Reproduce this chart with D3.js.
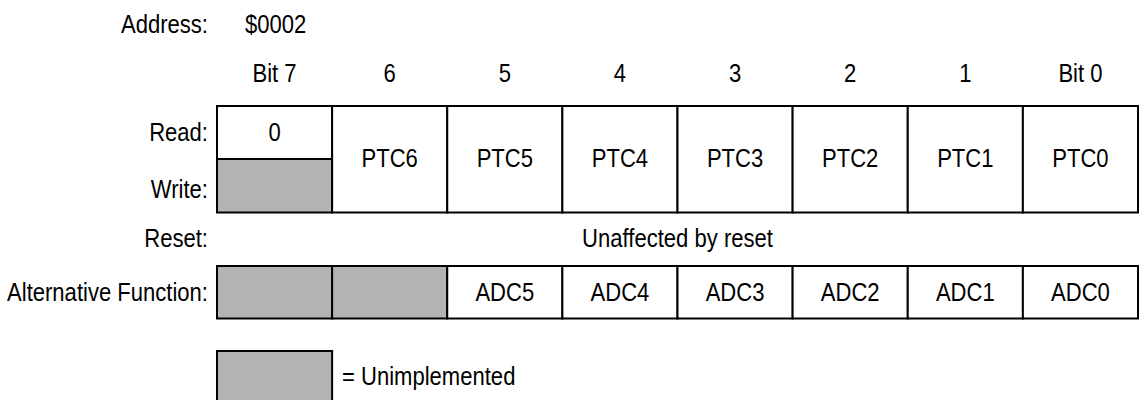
<!DOCTYPE html>
<html>
<head>
<meta charset="utf-8">
<script src="https://cdn.jsdelivr.net/npm/d3@7"></script>
<style>
  html, body { margin: 0; padding: 0; background: #fff; }
  svg { display: block; }
  text { font-family: "Liberation Sans", Arial, Helvetica, sans-serif; font-size: 25.5px; fill: #000; }
</style>
</head>
<body>
<svg id="chart" width="1144" height="400"></svg>
<script>
// ---- data ----
const address = "$0002";
const bitLabels = ["Bit 7", "6", "5", "4", "3", "2", "1", "Bit 0"];
const readValues = ["0", "PTC6", "PTC5", "PTC4", "PTC3", "PTC2", "PTC1", "PTC0"];
const writeValues = [null, "PTC6", "PTC5", "PTC4", "PTC3", "PTC2", "PTC1", "PTC0"];
const resetText = "Unaffected by reset";
const altFunction = [null, null, "ADC5", "ADC4", "ADC3", "ADC2", "ADC1", "ADC0"];
const rowLabels = ["Read:", "Write:", "Reset:", "Alternative Function:"];
const legendText = "= Unimplemented";

// ---- layout ----
const svg = d3.select("#chart");
const GRAY = "#b3b3b3";
const SX = 0.865; // horizontal condensing of the narrow typeface
const left = 217, right = 1138;
const x = d3.scaleBand().domain(d3.range(bitLabels.length)).range([left, right]).padding(0);
const bw = x.bandwidth();
const labelX = 208;

const regTop = 106, regMid = 159, regBot = 212.5;
const altTop = 266, altBot = 318.5;
const resetY = 246.5;

function label(parent, tx, ty, str, anchor) {
  return parent.append("text")
    .attr("transform", `translate(${tx},${ty}) scale(${SX},1)`)
    .attr("text-anchor", anchor || "start")
    .text(str);
}

// Address line
label(svg, labelX, 33, "Address:", "end");
label(svg, 245, 33, address);

// Bit headers
bitLabels.forEach((d, i) => label(svg, x(i) + bw / 2, 82, d, "middle"));

// Row labels
const labelYs = [141, 198, resetY, 301];
rowLabels.forEach((d, i) => label(svg, labelX, labelYs[i], d, "end"));

// Register cells
const g = svg.append("g");
readValues.forEach((rv, i) => {
  const wv = writeValues[i];
  if (rv !== wv) {
    g.append("rect").attr("x", x(i)).attr("y", regTop).attr("width", bw).attr("height", regMid - regTop)
      .attr("fill", "#fff").attr("stroke", "#000").attr("stroke-width", 2);
    g.append("rect").attr("x", x(i)).attr("y", regMid).attr("width", bw).attr("height", regBot - regMid)
      .attr("fill", wv === null ? GRAY : "#fff").attr("stroke", "#000").attr("stroke-width", 2);
    label(g, x(i) + bw / 2, 141, rv, "middle");
    if (wv !== null) label(g, x(i) + bw / 2, 198, wv, "middle");
  } else {
    g.append("rect").attr("x", x(i)).attr("y", regTop).attr("width", bw).attr("height", regBot - regTop)
      .attr("fill", "#fff").attr("stroke", "#000").attr("stroke-width", 2);
    label(g, x(i) + bw / 2, (regTop + regBot) / 2 + 8, rv, "middle");
  }
});

// Reset text
label(svg, (left + right) / 2, resetY, resetText, "middle");

// Alternative function row
svg.selectAll("rect.alt").data(altFunction).join("rect")
  .attr("class", "alt")
  .attr("x", (d, i) => x(i)).attr("y", altTop).attr("width", bw).attr("height", altBot - altTop)
  .attr("fill", d => d === null ? GRAY : "#fff").attr("stroke", "#000").attr("stroke-width", 2);
altFunction.forEach((d, i) => { if (d) label(svg, x(i) + bw / 2, (altTop + altBot) / 2 + 9, d, "middle"); });

// Legend
svg.append("rect").attr("x", left).attr("y", 351).attr("width", bw).attr("height", 60)
  .attr("fill", GRAY).attr("stroke", "#000").attr("stroke-width", 2);
label(svg, 342, 385, legendText);
</script>
</body>
</html>
